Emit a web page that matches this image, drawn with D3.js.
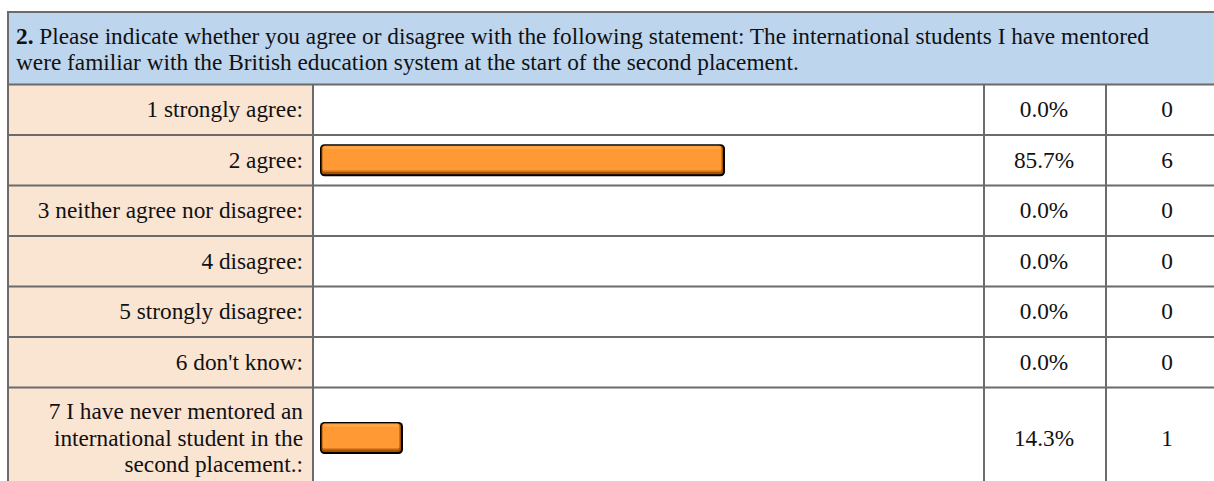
<!DOCTYPE html>
<html>
<head>
<meta charset="utf-8">
<script src="https://cdn.jsdelivr.net/npm/d3@7"></script>
<style>
  html, body { margin: 0; padding: 0; background: #ffffff; overflow: hidden; }
  svg { display: block; }
  text { font-family: "Liberation Serif", "Times New Roman", serif; font-size: 23.3px; fill: #111; }
</style>
</head>
<body>
<svg id="chart" width="1214" height="481"></svg>
<script>
// Survey question 2 — response distribution
const questionNumber = "2.";
const questionLines = [
  " Please indicate whether you agree or disagree with the following statement: The international students I have mentored",
  "were familiar with the British education system at the start of the second placement."
];
const categories = [
  ["1 strongly agree:"],
  ["2 agree:"],
  ["3 neither agree nor disagree:"],
  ["4 disagree:"],
  ["5 strongly disagree:"],
  ["6 don't know:"],
  ["7 I have never mentored an", "international student in the", "second placement.:"]
];
const percents = [0.0, 85.7, 0.0, 0.0, 0.0, 0.0, 14.3];
const counts = [0, 6, 0, 0, 0, 0, 1];

// Table geometry
const tblLeft = 8, tblRight = 1228, tblTop = 12, headerH = 72.5;
const labelRight = 313, pctRight = 984, countLeft = 1106;
const lineH = 26.7, minRowH = 50.5, barH = 32;
const border = "#6b6b6b";

const svg = d3.select("#chart");

// Row layout from the number of label lines
let yPos = tblTop + headerH;
const rows = categories.map((lines, i) => {
  const h = Math.max(minRowH, lines.length * lineH + 21);
  const r = { lines, pct: percents[i], count: counts[i], y0: yPos, h };
  yPos += h;
  return r;
});
const tblBottom = yPos;

// Bar length scale (percent -> px, includes bar end caps)
const barW = d3.scaleLinear().domain([0, 100]).range([18.5, 469.5]);

// Header
svg.append("rect").attr("x", tblLeft).attr("y", tblTop)
  .attr("width", tblRight - tblLeft).attr("height", headerH).attr("fill", "#bed5ee");
const ht = svg.append("text").attr("x", 16).attr("y", tblTop + 31.5);
ht.append("tspan").attr("font-weight", "bold").text(questionNumber);
ht.append("tspan").text(questionLines[0]);
svg.append("text").attr("x", 16).attr("y", tblTop + 58.2).text(questionLines[1]);

// Row backgrounds
const g = svg.append("g");
const row = g.selectAll("g.row").data(rows).join("g").attr("class", "row");
row.append("rect").attr("x", tblLeft).attr("y", d => d.y0)
  .attr("width", labelRight - tblLeft).attr("height", d => d.h).attr("fill", "#fae5d3");
row.append("rect").attr("x", labelRight).attr("y", d => d.y0)
  .attr("width", tblRight - labelRight).attr("height", d => d.h).attr("fill", "#ffffff");

// Labels (right-aligned)
row.each(function(d) {
  const cy = d.y0 + d.h / 2;
  const n = d.lines.length;
  d3.select(this).selectAll("text.lab").data(d.lines).join("text")
    .attr("class", "lab")
    .attr("x", 303)
    .attr("y", (s, j) => cy + (j - (n - 1) / 2) * lineH + 7.6)
    .attr("text-anchor", "end")
    .text(s => s);
});

// Percent and count columns
row.append("text").attr("x", 1044).attr("y", d => d.y0 + d.h / 2 + 7.6)
  .attr("text-anchor", "middle").text(d => d.pct.toFixed(1) + "%");
row.append("text").attr("x", 1167).attr("y", d => d.y0 + d.h / 2 + 7.6)
  .attr("text-anchor", "middle").text(d => d.count);

// Bars: black outline, dark shaded bottom/right edge, orange face, light top rim
const bars = row.filter(d => d.count > 0).append("g")
  .attr("transform", d => `translate(320,${d.y0 + d.h / 2 - barH / 2})`);
bars.append("rect").attr("width", d => barW(d.pct)).attr("height", barH)
  .attr("rx", 4.5).attr("fill", "#000");
bars.append("rect").attr("x", 1.5).attr("y", 1.5)
  .attr("width", d => barW(d.pct) - 3.5).attr("height", barH - 3.5)
  .attr("rx", 3).attr("fill", "#a45200");
bars.append("rect").attr("x", 2.5).attr("y", 1.5)
  .attr("width", d => barW(d.pct) - 6).attr("height", barH - 6.5)
  .attr("rx", 2.5).attr("fill", "#ff9933");
bars.append("rect").attr("x", 4).attr("y", 2.5)
  .attr("width", d => barW(d.pct) - 9).attr("height", 2)
  .attr("fill", "#ffab4c");
bars.append("rect").attr("x", 3).attr("y", barH - 6)
  .attr("width", d => barW(d.pct) - 7).attr("height", 1.5)
  .attr("fill", "#e07c1c");

// Grid lines
const grid = svg.append("g").attr("stroke", border).attr("stroke-width", 2).attr("fill", "none");
grid.append("rect").attr("x", tblLeft).attr("y", tblTop)
  .attr("width", tblRight - tblLeft).attr("height", tblBottom - tblTop);
grid.selectAll("line.h").data(rows).join("line").attr("class", "h")
  .attr("x1", tblLeft).attr("x2", tblRight).attr("y1", d => d.y0).attr("y2", d => d.y0);
[labelRight, pctRight, countLeft].forEach(x => {
  grid.append("line").attr("x1", x).attr("x2", x).attr("y1", tblTop + headerH).attr("y2", tblBottom);
});
</script>
</body>
</html>
